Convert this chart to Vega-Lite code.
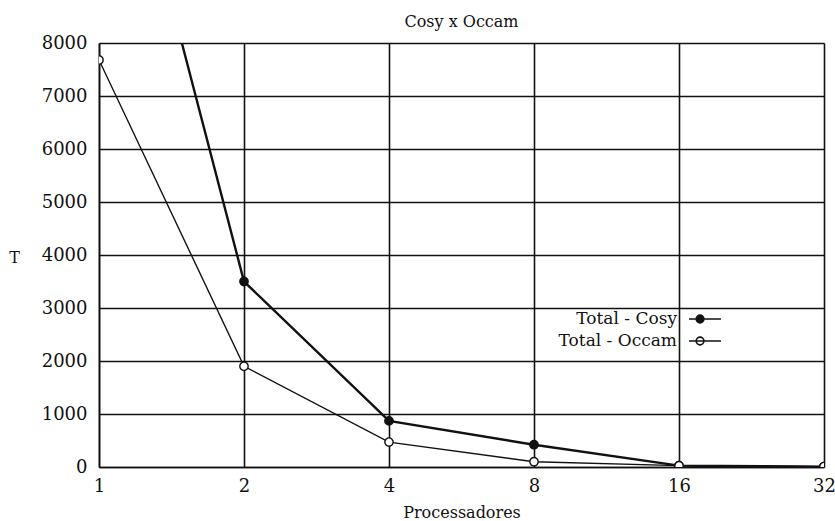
{
  "$schema": "https://vega.github.io/schema/vega-lite/v6.json",
  "width": 725,
  "height": 424,
  "autosize": {"type": "none"},
  "padding": {"left": 99, "top": 43, "right": 11, "bottom": 54},
  "background": "white",
  "config": {
    "font": "DejaVu Serif",
    "view": {"stroke": null},
    "axis": {
      "domainColor": "#111", "domainWidth": 1.6,
      "gridColor": "#111", "gridWidth": 1.6, "gridOpacity": 1,
      "ticks": false,
      "labelFont": "DejaVu Serif", "labelFontSize": 18, "labelColor": "#111",
      "titleFont": "DejaVu Serif", "titleFontSize": 16, "titleFontWeight": "normal", "titleColor": "#111"
    }
  },
  "title": {"text": "Cosy x Occam", "font": "DejaVu Serif", "fontSize": 16, "fontWeight": "normal", "color": "#111", "anchor": "middle", "offset": 4},
  "data": {"values": [
    {"p": 1, "T": 14000, "serie": "Total - Cosy"},
    {"p": 2, "T": 3500, "serie": "Total - Cosy"},
    {"p": 4, "T": 870, "serie": "Total - Cosy"},
    {"p": 8, "T": 420, "serie": "Total - Cosy"},
    {"p": 16, "T": 25, "serie": "Total - Cosy"},
    {"p": 32, "T": 8, "serie": "Total - Cosy"},
    {"p": 1, "T": 7680, "serie": "Total - Occam"},
    {"p": 2, "T": 1900, "serie": "Total - Occam"},
    {"p": 4, "T": 470, "serie": "Total - Occam"},
    {"p": 8, "T": 100, "serie": "Total - Occam"},
    {"p": 16, "T": 25, "serie": "Total - Occam"},
    {"p": 32, "T": 8, "serie": "Total - Occam"}
  ]},
  "encoding": {
    "x": {"field": "p", "type": "quantitative",
      "scale": {"type": "log", "base": 2, "domain": [1, 32], "nice": false},
      "axis": {"values": [1, 2, 4, 8, 16, 32], "format": "d", "labelPadding": 10, "title": "Processadores", "titlePadding": 9, "labelFlush": false}},
    "y": {"field": "T", "type": "quantitative",
      "scale": {"domain": [0, 8000], "nice": false},
      "axis": {"values": [0, 1000, 2000, 3000, 4000, 5000, 6000, 7000, 8000], "format": "d", "labelPadding": 12,
        "title": "T", "titleAngle": 0, "titleAlign": "center", "titleBaseline": "middle", "titleX": -85, "titleY": 214, "titleFontSize": 16}}
  },
  "layer": [
    {
      "transform": [{"filter": "datum.serie === 'Total - Occam'"}],
      "mark": {"type": "line", "clip": true, "color": "#111", "strokeWidth": 1.4},
      "encoding": {}
    },
    {
      "transform": [{"filter": "datum.serie === 'Total - Cosy'"}],
      "mark": {"type": "line", "clip": true, "color": "#111", "strokeWidth": 2.4},
      "encoding": {}
    },
    {
      "mark": {"type": "point", "clip": true, "shape": "circle", "stroke": "#111", "strokeWidth": 1.4, "size": 70, "opacity": 1, "filled": true},
      "encoding": {
        "fill": {"field": "serie", "type": "nominal", "scale": {"domain": ["Total - Cosy", "Total - Occam"], "range": ["#111", "white"]},
          "legend": {"title": null, "orient": "none", "legendX": 594, "legendY": 264, "padding": 0, "rowPadding": 2,
            "symbolType": "M-1.45,0H1.45M-0.8,0A0.35,0.35 0 1,0 -0.1,0A0.35,0.35 0 1,0 -0.8,0Z",
            "symbolSize": 484, "symbolStrokeColor": "#111", "symbolStrokeWidth": 1.6, "symbolOpacity": 1,
            "labelAlign": "right", "labelOffset": -40, "labelFont": "DejaVu Serif", "labelFontSize": 17, "labelColor": "#111", "labelLimit": 300}}
      }
    }
  ]
}
